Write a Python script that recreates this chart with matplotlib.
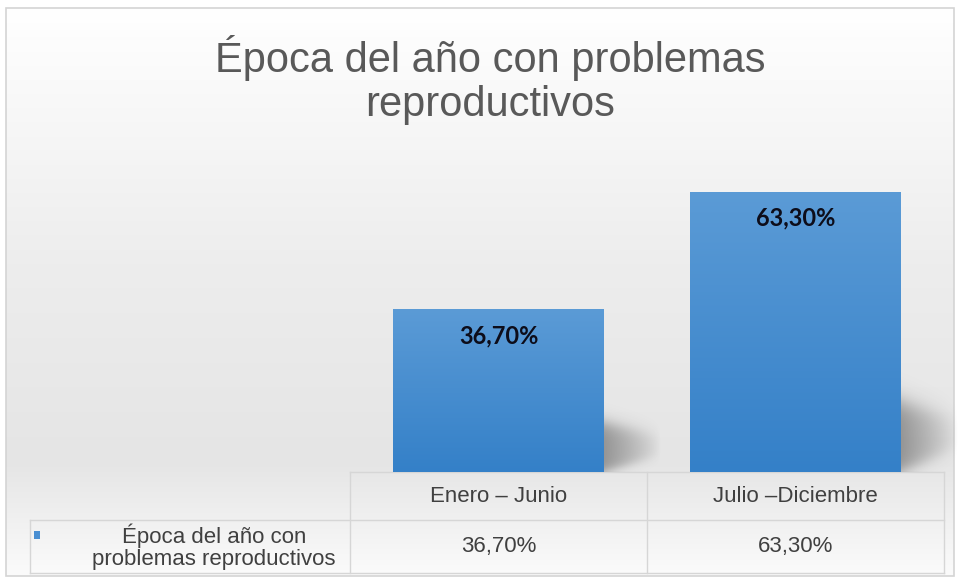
import numpy as np
import matplotlib
matplotlib.use("Agg")
from matplotlib import pyplot as plt
from matplotlib.colors import LinearSegmentedColormap
from matplotlib.patches import Rectangle

categories = ["Enero – Junio", "Julio –Diciembre"]
values = [36.7, 63.3]
value_labels = ["36,70%", "63,30%"]
series_name = "Época del año con\nproblemas reproductivos"
title = "Época del año con problemas\nreproductivos"

NARROW = ["Liberation Sans Narrow", "Liberation Sans", "DejaVu Sans"]
W, H = 958, 580

fig = plt.figure(figsize=(W / 100, H / 100), dpi=100)

# background layer in pixel coordinates
bg = fig.add_axes([0, 0, 1, 1], zorder=0)
bg.set_xlim(0, W)
bg.set_ylim(H, 0)
bg.axis("off")
bg_cmap = LinearSegmentedColormap.from_list(
    "bg", [(0, "#ffffff"), (0.45, "#ededed"), (0.8, "#e5e5e5"), (1.0, "#fbfbfb")]
)
grad = np.linspace(0, 1, 256).reshape(-1, 1)
bg.imshow(grad, cmap=bg_cmap, aspect="auto", extent=(6, 954, 576, 8), zorder=0)
bg.add_patch(Rectangle((6, 8), 948, 568, fill=False, edgecolor="#d4d4d4", lw=1.2, zorder=1))

# title
bg.text(490, 80, title, ha="center", va="center", fontsize=30, color="#595959",
        family=NARROW, linespacing=1.12)

# bar plot area
left, right, top, bottom = 350, 944, 162, 472
ax = fig.add_axes([left / W, 1 - bottom / H, (right - left) / W, (bottom - top) / H], zorder=2)
ax.axis("off")
ax.patch.set_alpha(0)

bar_cmap = LinearSegmentedColormap.from_list("bar", ["#5b9bd6", "#3480c8"])
x = np.arange(len(categories))
bars = ax.bar(x, values, width=0.71, color="none", edgecolor="none")

# soft perspective shadow, built as an alpha image next to each bar foot
sw = 0.19
uu, vv = np.meshgrid(np.linspace(0, 1, 120), np.linspace(1, 0, 200))

for b, lbl in zip(bars, value_labels):
    bx, by, bw, bh = b.get_x(), b.get_y(), b.get_width(), b.get_height()
    sh = bh * 0.3 if bh < 50 else bh * 0.25
    ymax = sh * 1.6
    v = vv * ymax
    top_edge = sh * (1 - 0.25 * uu)
    bot_edge = sh * 0.33 * uu
    soft = sh * 0.09
    inside = (1 / (1 + np.exp(-(top_edge - v) / soft))) * (1 / (1 + np.exp(-(v - bot_edge) / (soft * 0.7))))
    alpha = 0.42 * inside * np.clip(1 - uu, 0, 1) ** 0.8
    rgba = np.zeros(alpha.shape + (4,))
    rgba[..., :3] = 0.15
    rgba[..., 3] = alpha
    ax.imshow(rgba, aspect="auto", extent=(bx + bw, bx + bw + sw, 0, ymax), zorder=1,
              clip_on=False, interpolation="bilinear")

    im = ax.imshow(grad, cmap=bar_cmap, aspect="auto", extent=(bx, bx + bw, by, by + bh),
                   zorder=2)
    im.set_clip_path(Rectangle((bx, by), bw, bh, transform=ax.transData))
    ax.text(bx + bw / 2, bh - 6, lbl, ha="center", va="center", fontsize=17,
            fontweight="bold", color="#0d0d1a", family=["Lato", "DejaVu Sans"], zorder=3)

ax.set_xlim(-0.5, len(categories) - 0.5)
ax.set_ylim(0, 70)

# data table below the plot area
line_c = "#d6d6d6"
col_edges = [350, 647, 944]
row_top, row_mid, row_bot = 472, 520, 573
bg.plot([350, 944], [row_top, row_top], color=line_c, lw=1, zorder=2)
bg.plot([30, 944], [row_mid, row_mid], color=line_c, lw=1, zorder=2)
bg.plot([30, 944], [row_bot, row_bot], color=line_c, lw=1, zorder=2)
for cx in col_edges:
    bg.plot([cx, cx], [row_top, row_bot], color=line_c, lw=1, zorder=2)
bg.plot([30, 30], [row_mid, row_bot], color=line_c, lw=1, zorder=2)

for i, (cat, lbl) in enumerate(zip(categories, value_labels)):
    cx = (col_edges[i] + col_edges[i + 1]) / 2
    bg.text(cx, (row_top + row_mid) / 2, cat, ha="center", va="center", fontsize=16,
            color="#404040", family=NARROW)
    bg.text(cx, (row_mid + row_bot) / 2, lbl, ha="center", va="center", fontsize=16,
            color="#404040", family=NARROW)

bg.add_patch(Rectangle((34, 531), 6, 8, facecolor="#4a8fd2", edgecolor="none", zorder=3))
bg.text(214, (row_mid + row_bot) / 2, series_name, ha="center", va="center", fontsize=16,
        color="#404040", family=NARROW, linespacing=1.05)

plt.savefig("out.png", dpi=100)
plt.close()
